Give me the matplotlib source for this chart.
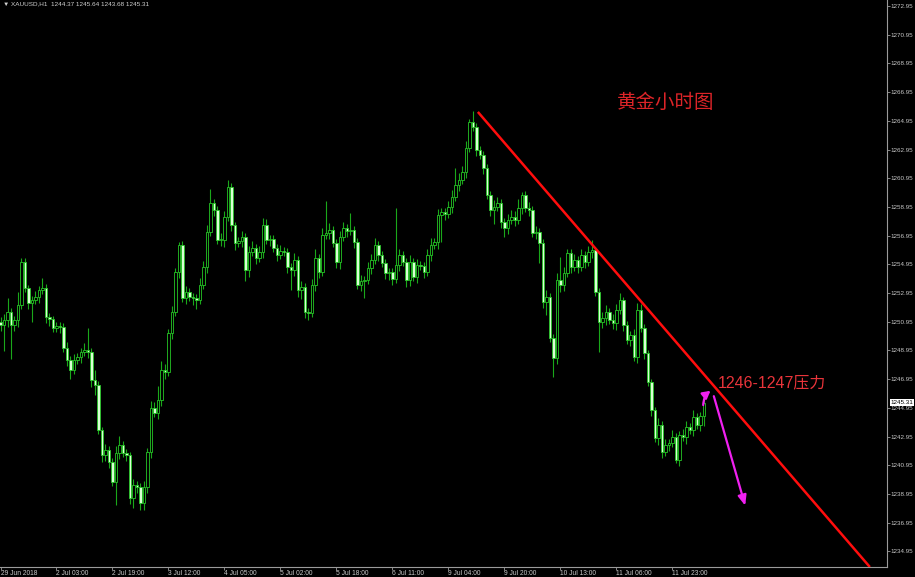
import matplotlib
matplotlib.use("Agg")
import matplotlib.pyplot as plt
from matplotlib.patches import FancyArrowPatch

# XAUUSD H1, 29 Jun - 12 Jul 2018
first_open = 1250.90
closes = [
    1250.72, 1251.07, 1251.63, 1250.72, 1251.07, 1252.12, 1255.11, 1253.30, 1252.26, 1252.46,
    1252.67, 1253.16, 1253.30, 1251.28, 1251.14, 1250.51, 1250.65, 1250.58, 1249.12, 1248.28,
    1247.59, 1248.28, 1248.49, 1248.84, 1248.98, 1248.84, 1246.89, 1246.54, 1243.41, 1241.66,
    1242.01, 1241.18, 1239.78, 1241.80, 1242.36, 1241.80, 1241.66, 1238.67, 1239.57, 1239.43,
    1238.32, 1239.43, 1241.87, 1244.94, 1244.59, 1245.50, 1247.59, 1247.45, 1250.16, 1251.63,
    1254.42, 1256.30, 1252.60, 1253.02, 1252.67, 1252.60, 1252.46, 1253.51, 1254.76, 1257.20,
    1259.22, 1258.74, 1256.65, 1256.65, 1258.25, 1260.34, 1257.69, 1256.44, 1256.58, 1256.85,
    1254.56, 1255.81, 1256.09, 1255.39, 1255.81, 1257.69, 1256.65, 1256.72, 1256.09, 1255.60,
    1255.88, 1255.81, 1254.76, 1254.56, 1255.25, 1253.16, 1253.37, 1251.63, 1251.56, 1253.51,
    1255.39, 1254.42, 1256.99, 1257.13, 1257.34, 1256.44, 1255.11, 1256.85, 1257.48, 1257.27,
    1257.34, 1256.51, 1253.51, 1253.79, 1253.86, 1254.69, 1255.25, 1256.30, 1255.60, 1255.04,
    1254.35, 1254.42, 1253.93, 1254.90, 1255.60, 1255.11, 1253.86, 1255.11, 1254.07, 1254.90,
    1254.83, 1254.42, 1255.60, 1256.30, 1256.51, 1258.39, 1258.60, 1258.46, 1258.94, 1259.64,
    1260.48, 1260.83, 1261.38, 1263.06, 1264.87, 1264.52, 1262.92, 1262.57, 1261.66, 1259.78,
    1258.74, 1258.94, 1259.22, 1257.90, 1257.48, 1258.04, 1258.25, 1258.04, 1258.88, 1259.78,
    1258.88, 1258.74, 1257.13, 1257.20, 1256.44, 1252.32, 1252.67, 1249.82, 1248.42, 1253.86,
    1253.51, 1254.35, 1255.74, 1254.76, 1255.25, 1254.76, 1255.60, 1255.11, 1255.81, 1255.95,
    1253.02, 1250.93, 1251.21, 1251.63, 1251.07, 1250.86, 1251.77, 1252.46, 1250.72, 1249.68,
    1250.03, 1248.49, 1251.77, 1250.51, 1248.77, 1246.75, 1244.80, 1242.85, 1243.75, 1241.87,
    1242.36, 1242.50, 1242.92, 1241.31, 1243.06, 1242.92, 1243.61, 1243.40, 1244.31, 1243.75,
    1244.37, 1245.31,
]
upper_wick = [
    0.4, 0.4, 1.0, 0.3, 0.3, 0.9, 0.3, 0.3, 0.2, 0.3,
    0.4, 0.3, 0.7, 0.3, 0.3, 0.2, 0.3, 0.3, 0.3, 0.4,
    0.3, 0.4, 0.3, 0.3, 0.5, 1.5, 0.3, 0.7, 0.3, 0.2,
    0.4, 0.3, 0.3, 0.5, 0.6, 0.3, 0.3, 0.2, 0.4, 0.3,
    0.3, 0.4, 0.3, 0.5, 0.4, 1.0, 0.6, 0.4, 0.3, 0.4,
    0.3, 0.2, 0.3, 0.4, 0.3, 0.3, 0.3, 0.5, 0.4, 0.5,
    1.0, 0.3, 0.3, 0.5, 0.4, 0.5, 0.3, 0.2, 0.3, 0.4,
    0.3, 0.4, 0.5, 0.3, 0.4, 0.5, 0.4, 0.3, 0.3, 0.3,
    0.4, 0.3, 0.3, 0.3, 0.5, 0.3, 0.4, 0.3, 0.3, 0.4,
    0.6, 0.3, 0.5, 2.2, 0.5, 0.3, 0.3, 0.4, 0.4, 0.3,
    1.2, 0.3, 0.3, 0.4, 0.3, 0.4, 0.4, 0.5, 0.3, 0.3,
    0.3, 0.3, 0.3, 4.0, 0.4, 0.3, 0.3, 0.5, 0.3, 0.4,
    0.3, 0.3, 0.4, 0.5, 0.3, 0.4, 0.3, 0.3, 0.4, 0.5,
    1.2, 0.5, 0.4, 0.5, 0.2, 0.8, 0.3, 0.3, 0.3, 0.3,
    0.3, 0.5, 0.4, 0.3, 0.3, 0.4, 0.5, 0.4, 0.6, 0.2,
    0.3, 0.4, 0.3, 0.4, 0.3, 0.3, 0.5, 0.3, 0.3, 0.5,
    1.6, 0.4, 0.3, 0.3, 0.4, 0.3, 0.4, 0.3, 0.4, 0.7,
    0.2, 0.3, 0.4, 0.5, 0.3, 0.4, 0.4, 0.5, 0.2, 0.3,
    0.3, 0.4, 0.5, 0.4, 0.3, 0.2, 0.2, 0.2, 0.5, 0.3,
    0.4, 0.3, 0.5, 0.3, 0.3, 0.4, 0.4, 0.3, 0.5, 0.3,
    0.3, 0.33,
]
lower_wick = [
    0.4, 1.8, 0.5, 2.4, 0.4, 0.5, 0.3, 0.3, 0.4, 1.3,
    0.3, 0.4, 0.3, 0.4, 0.5, 0.3, 0.3, 0.4, 0.3, 0.4,
    0.6, 0.3, 0.3, 0.4, 0.3, 0.4, 0.5, 0.7, 0.3, 0.5,
    0.4, 0.4, 0.3, 1.6, 0.4, 0.3, 0.4, 0.4, 0.7, 0.4,
    0.5, 0.5, 0.4, 0.4, 0.3, 0.4, 0.4, 0.5, 0.3, 0.4,
    0.3, 0.4, 0.3, 0.4, 0.3, 0.5, 0.6, 0.3, 0.3, 0.4,
    0.3, 0.4, 0.3, 0.4, 0.5, 0.3, 0.4, 0.5, 0.3, 0.4,
    0.8, 0.5, 0.3, 0.4, 0.3, 0.4, 0.3, 0.4, 0.3, 0.4,
    0.3, 0.3, 0.4, 1.4, 0.4, 0.5, 0.6, 0.4, 0.5, 0.3,
    0.4, 0.4, 0.3, 0.3, 0.4, 0.3, 0.4, 0.5, 0.3, 0.4,
    0.3, 0.4, 0.3, 0.4, 1.2, 0.3, 0.4, 0.3, 0.4, 0.3,
    0.4, 0.5, 0.4, 0.3, 0.4, 0.3, 0.5, 0.4, 0.3, 0.4,
    0.3, 0.4, 0.3, 0.4, 0.3, 0.5, 1.9, 0.4, 0.3, 0.4,
    0.3, 0.4, 0.3, 0.4, 0.3, 0.3, 0.4, 0.3, 0.4, 0.3,
    0.4, 1.0, 0.3, 0.4, 0.6, 0.4, 0.3, 0.4, 0.3, 0.4,
    0.3, 0.4, 0.3, 0.4, 1.4, 0.4, 0.9, 0.3, 1.3, 0.4,
    0.5, 0.4, 0.3, 0.4, 0.3, 0.4, 0.3, 0.4, 0.3, 0.4,
    0.3, 2.1, 0.4, 0.5, 0.3, 0.4, 0.5, 0.3, 0.4, 0.3,
    0.4, 0.3, 0.4, 0.3, 0.4, 0.3, 0.4, 0.3, 0.5, 0.4,
    0.3, 0.4, 0.3, 0.2, 0.4, 0.3, 0.5, 0.3, 0.4, 0.3,
    0.4, 0.69,
]

date_ticks = [0, 16, 32, 48, 64, 80, 96, 112, 128, 144, 160, 176, 192]
date_labels = ["29 Jun 2018", "2 Jul 03:00", "2 Jul 19:00", "3 Jul 12:00", "4 Jul 05:00",
               "5 Jul 02:00", "5 Jul 18:00", "6 Jul 11:00", "9 Jul 04:00", "9 Jul 20:00",
               "10 Jul 13:00", "11 Jul 06:00", "11 Jul 23:00"]
price_ticks = [1234.95, 1236.95, 1238.95, 1240.95, 1242.95, 1244.95, 1246.95, 1248.95,
               1250.95, 1252.95, 1254.95, 1256.95, 1258.95, 1260.95, 1262.95, 1264.95,
               1266.95, 1268.95, 1270.95, 1272.95]
last_price = 1245.31
header = "▼ XAUUSD,H1  1244.37 1245.64 1243.68 1245.31"

# trendline (bar index, price) and the two magenta arrows
trend_start = (136.4, 1265.57)
trend_end = (248.4, 1233.86)
curve_start = (200.8, 1244.95)
curve_end = (203.5, 1246.25)
down_start = (203.6, 1245.95)
down_end = (213.0, 1237.95)

opens = [first_open] + closes[:-1]
highs = [max(o, c) + u for o, c, u in zip(opens, closes, upper_wick)]
lows = [min(o, c) - d for o, c, d in zip(opens, closes, lower_wick)]
xs = list(range(len(closes)))

fig = plt.figure(figsize=(9.15, 5.77), dpi=100, facecolor="black")
ax = fig.add_axes([0, 10 / 577, 887 / 915, 567 / 577], facecolor="black")

ax.vlines(xs, lows, highs, color="#1aa81a", linewidth=0.8, zorder=2)
bull = [c >= o for o, c in zip(opens, closes)]
heights = [max(abs(c - o), 0.04) for o, c in zip(opens, closes)]
bottoms = [min(o, c) for o, c in zip(opens, closes)]
faces = ["black" if b else "#d9ffd4" for b in bull]
ax.bar(xs, heights, bottom=bottoms, width=0.66, color=faces,
       edgecolor="#26c626", linewidth=0.6, zorder=3)

ax.plot([trend_start[0], trend_end[0]], [trend_start[1], trend_end[1]],
        color="#ff0d0d", linewidth=1.8, zorder=4, solid_capstyle="butt")

ax.add_patch(FancyArrowPatch(curve_start, curve_end, connectionstyle="arc3,rad=-0.3",
                             arrowstyle="-|>,head_length=4.5,head_width=2.5",
                             color="#f020f0", linewidth=1.6, zorder=5))
ax.add_patch(FancyArrowPatch(down_start, down_end,
                             arrowstyle="-|>,head_length=6,head_width=2.5",
                             color="#f020f0", linewidth=1.6, zorder=5))

ax.text(176.1, 1266.25, "黄金小时图", color="#dc2428", fontsize=14,
        family=["Noto Sans CJK SC"], va="center", ha="left")
ax.text(204.8, 1246.70, "1246-1247压力", color="#e8343a", fontsize=11.5,
        family=["Liberation Sans", "Noto Sans CJK SC"], va="center", ha="left")

ax.set_xlim(-0.143, 253.3)
ax.set_ylim(1233.86, 1273.37)

for side in ["top", "left"]:
    ax.spines[side].set_visible(False)
for side in ["right", "bottom"]:
    ax.spines[side].set_color("#9a9a9a")
    ax.spines[side].set_linewidth(0.8)

ax.yaxis.tick_right()
ax.set_yticks(price_ticks)
ax.set_yticklabels([f"{p:.2f}" for p in price_ticks])
ax.tick_params(axis="y", colors="#9a9a9a", labelcolor="#c8c8c8", labelsize=4.5,
               length=1.8, width=0.6, pad=0.6)
ax.set_xticks(date_ticks)
ax.set_xticklabels(date_labels)
ax.tick_params(axis="x", colors="#9a9a9a", labelcolor="#c8c8c8", labelsize=4.8,
               length=2, width=0.6, pad=0.5)
for lbl in ax.get_xticklabels():
    lbl.set_ha("left")
for lbl in ax.get_xticklabels() + ax.get_yticklabels():
    lbl.set_family("Liberation Sans")

ax.text(1.004, last_price, f"{last_price:.2f}", transform=ax.get_yaxis_transform(),
        ha="left", va="center", fontsize=4.5, color="black", family="Liberation Sans",
        bbox=dict(facecolor="white", edgecolor="none", pad=0.5), clip_on=False, zorder=10)

fig.text(0.003, 0.997, header, ha="left", va="top", fontsize=4.6, color="#d0d0d0",
         family=["Liberation Sans", "DejaVu Sans"])

fig.savefig("out.png", dpi=100, facecolor="black")
